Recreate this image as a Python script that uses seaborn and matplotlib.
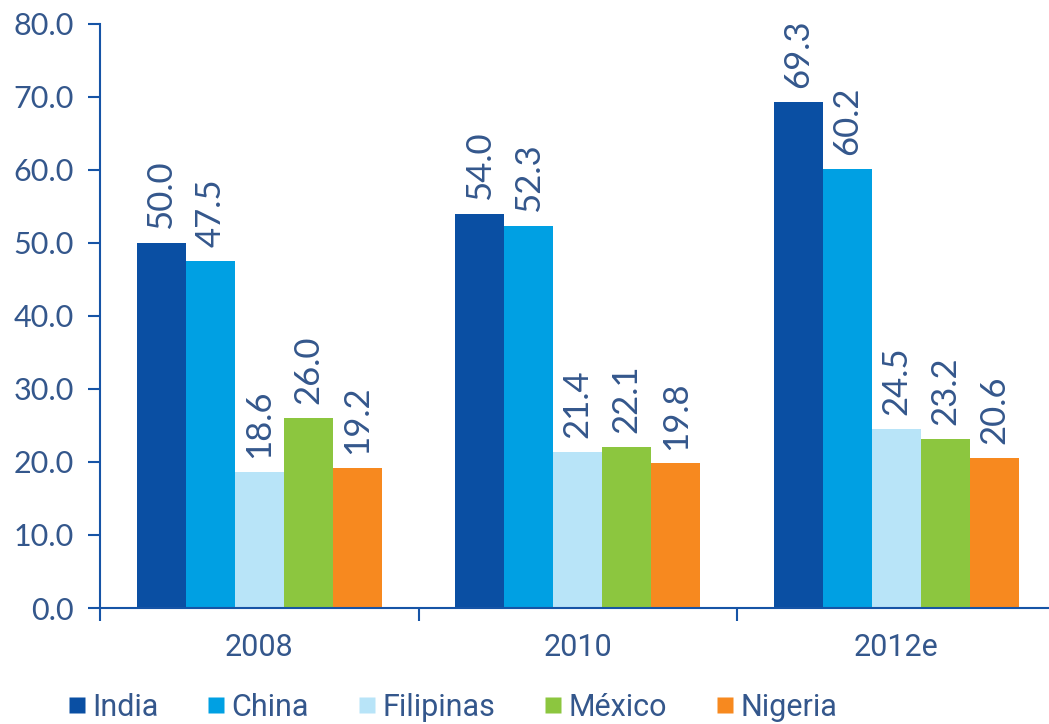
import matplotlib
matplotlib.use("Agg")
import matplotlib.pyplot as plt
import seaborn as sns
import pandas as pd
from matplotlib.lines import Line2D

years = ["2008", "2010", "2012e"]
countries = ["India", "China", "Filipinas", "México", "Nigeria"]
india = [50.0, 54.0, 69.3]
china = [47.5, 52.3, 60.2]
filipinas = [18.6, 21.4, 24.5]
mexico = [26.0, 22.1, 23.2]
nigeria = [19.2, 19.8, 20.6]
yticks = [0, 10, 20, 30, 40, 50, 60, 70, 80]

colors = ["#0a4fa3", "#00a0e3", "#b8e4f8", "#8cc63f", "#f7891f"]
text_color = "#34578c"
axis_color = "#1654a6"

series = [india, china, filipinas, mexico, nigeria]
rows = []
for c, vals in zip(countries, series):
    for y, v in zip(years, vals):
        rows.append({"year": y, "country": c, "value": v})
df = pd.DataFrame(rows)

sns.set_theme(style="white")
plt.rcParams["font.family"] = ["Lato", "DejaVu Sans"]
narrow = ["Roboto", "Liberation Sans", "DejaVu Sans"]

fig = plt.figure(figsize=(10.49, 7.24), dpi=100)
ax = fig.add_axes([100 / 1049, 1 - 608 / 724, 955.5 / 1049, (608 - 24) / 724])

sns.barplot(data=df, x="year", y="value", hue="country", hue_order=countries,
            order=years, palette=colors, width=0.77, gap=0, saturation=1,
            edgecolor="none", linewidth=0, ax=ax, legend=False)

for cont in ax.containers:
    ax.bar_label(cont, fmt="%.1f", rotation=90, padding=10, fontsize=25,
                 color=text_color)

ax.set_ylim(0, 80)
ax.set_xlim(-0.5, 2.5)
ax.set_yticks(yticks)
ax.set_yticklabels([f"{v:.1f}" for v in yticks], fontsize=22, color=text_color)
ax.set_xticks([-0.5, 0.5, 1.5])
ax.set_xticklabels([])
ax.set_xticks([0, 1, 2], minor=True)
ax.set_xticklabels(years, minor=True, fontsize=22, color=text_color, family=narrow)
ax.tick_params(axis="x", which="major", direction="out", length=9, width=1.5,
               color=axis_color, bottom=True)
ax.tick_params(axis="x", which="minor", length=0, pad=18, bottom=True)
ax.tick_params(axis="y", direction="out", length=9, width=1.5, color=axis_color,
               left=True, pad=10)
ax.set_xlabel("")
ax.set_ylabel("")
for s in ["top", "right"]:
    ax.spines[s].set_visible(False)
for s in ["left", "bottom"]:
    ax.spines[s].set_color(axis_color)
    ax.spines[s].set_linewidth(1.5)

handles = [Line2D([0], [0], marker="s", linestyle="none", markersize=12,
                  markerfacecolor=c, markeredgecolor="none") for c in colors]
leg = fig.legend(handles, countries, loc="lower left", bbox_to_anchor=(40 / 1049, -0.035),
                 ncol=5, frameon=False, handlelength=0.6, handletextpad=0.2,
                 columnspacing=1.6, prop={"family": narrow, "size": 22})
for t in leg.get_texts():
    t.set_color(text_color)

fig.savefig("out.png", dpi=100, facecolor="white")
